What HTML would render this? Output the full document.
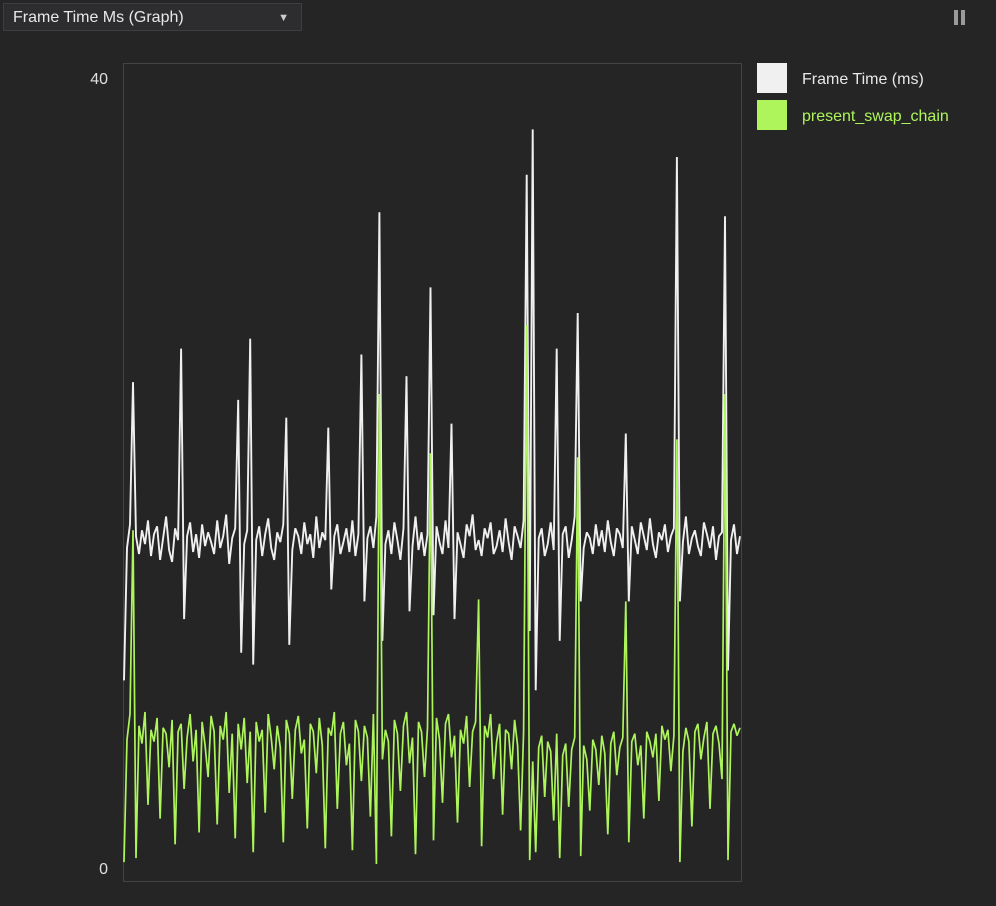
<!DOCTYPE html>
<html><head><meta charset="utf-8"><style>
body{margin:0;width:996px;height:906px;background:#252526;overflow:hidden;font-family:"Liberation Sans",sans-serif;position:relative}
.dd{position:absolute;left:3px;top:3px;width:299px;height:28px;background:#2d2d30;border:1px solid #3e3e42;color:#e8e8e8;font-size:16px;line-height:28px;padding-left:9px;box-sizing:border-box}
.dd span{position:absolute;right:12px;top:0;font-size:11px;color:#ccc}
.pause{position:absolute;left:954px;top:10px;width:11px;height:15px}
.pause i{position:absolute;top:0;width:4px;height:15px;background:#9a9a9a}
</style></head><body>
<div class="dd">Frame Time Ms (Graph)<span>▼</span></div>
<div class="pause"><i style="left:0"></i><i style="left:7px"></i></div>
<svg id="c" width="996" height="906" style="position:absolute;left:0;top:0"></svg>
<script>
const yTicks=[0,40];
const seriesNames=["Frame Time (ms)","present_swap_chain"];
const seriesColors=["#f0f0f0","#adf55a"];
const frameTime=[9.5,16.2,17.4,24.6,16.8,15.9,17.1,16.4,17.6,15.8,
16.9,17.3,15.6,16.7,17.8,16.1,15.5,17.2,16.6,26.3,
12.6,16.8,17.5,16.0,16.9,15.7,17.4,16.3,17.0,16.5,
15.9,17.6,16.2,16.8,17.9,15.4,16.7,17.2,23.7,10.9,
16.4,17.1,26.8,10.3,16.6,17.3,15.8,16.9,17.7,16.2,
15.6,17.0,16.5,17.4,22.8,11.3,16.1,17.2,16.8,15.9,
17.5,16.4,16.9,15.7,17.8,16.2,17.0,16.6,22.3,14.1,
16.8,17.4,15.9,16.5,17.2,16.0,17.6,15.8,16.9,26.0,
13.5,16.7,17.3,16.2,17.8,33.2,11.5,16.4,17.1,15.9,
17.5,16.6,15.6,17.2,24.9,13.0,16.3,17.8,16.1,17.0,
15.8,16.9,29.4,12.8,17.3,16.5,15.9,17.6,16.2,22.5,
12.6,17.0,16.4,15.7,17.4,16.8,17.9,16.1,16.6,15.8,
17.2,16.7,17.5,15.9,16.3,17.1,16.0,17.7,16.5,15.6,
17.3,16.8,16.2,17.6,35.1,12.0,37.4,9.0,16.7,17.2,
15.8,16.4,17.5,16.1,26.3,11.5,16.9,17.3,15.7,16.6,
17.8,28.1,13.5,16.2,17.0,16.7,15.9,17.4,16.3,17.1,
16.0,17.6,16.5,15.8,17.2,16.9,16.2,22.0,13.5,17.3,
16.6,15.9,17.5,16.8,16.1,17.7,16.4,15.7,17.0,16.6,
17.4,16.0,16.8,17.2,36.0,13.5,16.5,17.8,15.9,16.7,
17.1,16.3,15.8,17.5,16.9,16.2,17.3,15.6,16.8,17.0,
33.0,10.0,16.6,17.4,15.9,16.8];
const swapChain=[0.3,6.5,7.8,17.1,0.5,7.2,6.3,7.9,3.2,7.0,
6.4,7.6,2.5,7.1,6.8,5.1,7.5,1.2,6.9,7.3,
4.0,6.6,7.8,5.4,7.0,1.8,7.4,6.2,4.6,7.7,
6.9,2.2,7.2,6.5,7.9,3.8,6.8,1.5,7.3,6.0,
7.6,4.3,6.9,0.8,7.4,6.4,7.0,2.8,7.8,6.6,
5.0,7.2,6.1,1.3,7.5,6.8,3.5,7.0,7.7,5.8,
6.5,2.0,7.3,6.9,4.8,7.6,6.2,1.0,7.1,6.7,
7.9,3.0,6.8,7.4,5.2,6.3,0.9,7.5,6.9,4.4,
7.2,6.6,2.6,7.8,0.2,24.0,5.5,7.0,6.4,1.6,
7.5,6.8,3.9,7.2,7.9,5.3,6.6,0.7,7.4,6.9,
4.6,7.1,21.0,1.4,7.6,6.5,3.3,7.3,7.8,5.6,
6.7,2.3,7.0,6.3,7.7,4.1,6.9,7.4,13.6,1.1,
7.2,6.6,7.8,4.5,6.4,7.3,2.7,7.0,6.8,5.0,
7.5,6.2,1.9,6.9,27.5,0.4,5.4,0.8,6.1,6.7,
3.6,6.4,5.9,2.4,6.8,0.5,5.7,6.3,3.1,6.0,
6.6,20.8,0.6,6.2,5.5,2.9,6.5,6.0,4.2,6.7,
5.8,1.7,6.3,6.9,4.7,6.1,6.6,13.5,1.3,6.4,
6.8,5.2,6.2,2.5,6.9,6.4,5.6,6.8,3.4,7.2,
6.5,7.0,4.9,6.7,21.7,0.3,5.9,7.1,6.4,2.1,
6.9,7.3,5.5,6.6,7.4,3.0,6.8,7.2,6.3,4.5,
24.0,0.4,6.9,7.3,6.7,7.1];
const NS="http://www.w3.org/2000/svg";
const svg=document.getElementById('c');
function mk(t,a){const e=document.createElementNS(NS,t);for(const k in a)e.setAttribute(k,a[k]);svg.appendChild(e);return e;}
const X0=124,X1=740,Y0=868,Y40=78;
const yS=v=>Y0-(v-0)*(Y0-Y40)/40;
const xS=(i,n)=>X0+i*(X1-X0)/(n-1);
let fr=mk('rect',{x:123.5,y:63.5,width:618,height:818,fill:'none',stroke:'#444'});


yTicks.forEach(t=>{const e=mk('text',{x:108,y:yS(t)+6,'text-anchor':'end',fill:'#e0e0e0','font-size':16,'font-family':'Liberation Sans'});e.textContent=t;

});
[frameTime,swapChain].forEach((d,s)=>{
const p=d.map((v,i)=>xS(i,d.length).toFixed(1)+','+yS(v).toFixed(1)).join(' ');
const l=mk('polyline',{points:p,fill:'none',stroke:seriesColors[s],'stroke-width':s?1.7:1.9,'stroke-linejoin':'bevel'});


const r=mk('rect',{x:757,y:63+s*37,width:30,height:30,fill:seriesColors[s]});


const t=mk('text',{x:802,y:84+s*37,fill:s?seriesColors[1]:'#e8e8e8','font-size':16,'font-family':'Liberation Sans'});t.textContent=seriesNames[s];


});
</script>
</body></html>
